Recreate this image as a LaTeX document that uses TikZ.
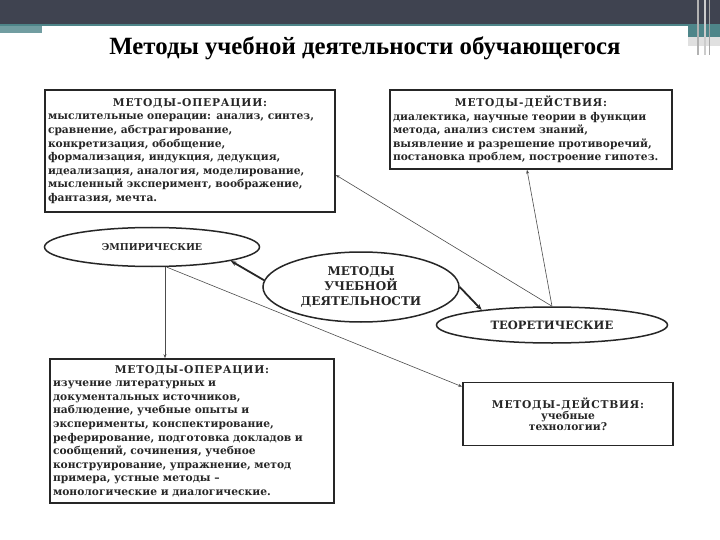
\documentclass[tikz,border=0pt]{standalone}
\usepackage{fontspec}
\setmainfont{Liberation Serif}
\newfontfamily\boxfont{DejaVu Serif}
\newfontfamily\headfont[LetterSpace=7]{DejaVu Serif}
\usetikzlibrary{arrows.meta,shapes.geometric,calc}

\definecolor{bandgray}{HTML}{3F4350}
\definecolor{bandteal}{HTML}{4E8589}
\definecolor{inkgray}{HTML}{262626}

\newcommand{\boxhead}[1]{\makebox[\linewidth][c]{\headfont #1}}

\tikzset{
  methodbox/.style={draw=inkgray, line width=1.6pt, rectangle, inner sep=3pt,
    text=inkgray, align=left, font=\boxfont\bfseries\fontsize{10.7}{13.6}\selectfont},
  methodoval/.style={draw=inkgray, line width=1.5pt, ellipse, inner sep=0pt,
    text=inkgray, align=center, font=\boxfont\bfseries\fontsize{9.5}{15}\selectfont},
  thinarrow/.style={-{Stealth[length=4pt,width=3pt]}, line width=0.6pt, draw=black!70},
  thickarrow/.style={-{Stealth[length=6pt,width=4.5pt]}, line width=1.8pt, draw=inkgray},
}

\begin{document}
\begin{tikzpicture}[x=1pt,y=-1pt]
    \useasboundingbox (0,0) rectangle (720,540);
    \fill[white] (0,0) rectangle (720,540);
    % Slide band
    \fill[bandgray] (0,0) rectangle (720,24);
    \fill[bandteal] (0,24) rectangle (690,26);
    \fill[bandteal!80!white] (0,26) rectangle (42,33);
    \fill[bandteal] (688,24) rectangle (720,37);
    \fill[black!12] (688,37) rectangle (720,46);
    \fill[black!30] (697,0) rectangle (699,55);
    \fill[black!20] (704,0) rectangle (706,55);
    \fill[black!35] (709,0) rectangle (710,55);
    % Title
    \node[font=\bfseries\fontsize{24.8}{28}\selectfont, text=black] (title) at (365,48)
      {Методы учебной деятельности обучающегося};
    % Boxes
    \node[methodbox, text width=284pt, minimum width=290pt, minimum height=122pt] (ops1) at (190,151)
      {\boxhead{МЕТОДЫ-ОПЕРАЦИИ:}\\
       мыслительные операции: анализ, синтез,\\
       сравнение, абстрагирование,\\
       конкретизация, обобщение,\\
       формализация, индукция, дедукция,\\
       идеализация, аналогия, моделирование,\\
       мысленный эксперимент, воображение,\\
       фантазия, мечта.};
    \node[methodbox, text width=276pt, minimum width=282pt, minimum height=79pt] (act1) at (531,129.5)
      {\boxhead{МЕТОДЫ-ДЕЙСТВИЯ:}\\
       диалектика, научные теории в функции\\
       метода, анализ систем знаний,\\
       выявление и разрешение противоречий,\\
       постановка проблем, построение гипотез.};
    \node[methodbox, text width=278pt, minimum width=284pt, minimum height=144pt] (ops2) at (192,431)
      {\boxhead{МЕТОДЫ-ОПЕРАЦИИ:}\\
       изучение литературных и\\
       документальных источников,\\
       наблюдение, учебные опыты и\\
       эксперименты, конспектирование,\\
       реферирование, подготовка докладов и\\
       сообщений, сочинения, учебное\\
       конструирование, упражнение, метод\\
       примера, устные методы –\\
       монологические и диалогические.};
    \node[methodbox, align=center, text width=204pt, minimum width=210pt, minimum height=63pt,
      font=\boxfont\bfseries\fontsize{10.7}{11}\selectfont] (act2) at (568,414)
      {{\headfont МЕТОДЫ-ДЕЙСТВИЯ:}\\ учебные\\ технологии?};
    % Ovals
    \node[methodoval, minimum width=215pt, minimum height=39pt] (emp) at (152,247) {ЭМПИРИЧЕСКИЕ};
    \node[methodoval, minimum width=196pt, minimum height=70pt,
      font=\boxfont\bfseries\fontsize{12}{15}\selectfont] (cen) at (361,287)
      {МЕТОДЫ\\ УЧЕБНОЙ\\ ДЕЯТЕЛЬНОСТИ};
    \node[methodoval, minimum width=231pt, minimum height=36pt,
      font=\boxfont\bfseries\fontsize{11.5}{15}\selectfont] (teor) at (552,325) {ТЕОРЕТИЧЕСКИЕ};
    % Connectors
    \draw[thickarrow] (cen.176) -- (emp.-10);
    \draw[thickarrow] (cen.east) -- (teor.168);
    \draw[thinarrow] ([xshift=13pt]emp.south) -- ([xshift=13pt]emp.south |- ops2.north);
    \draw[thinarrow] ([xshift=15pt]emp.south) -- ([yshift=-5pt]act2.north west);
    \draw[thinarrow] (teor.north) -- ([yshift=-24pt]ops1.east);
    \draw[thinarrow] (teor.north) -- ([xshift=-4pt]act1.south);
\end{tikzpicture}
\end{document}
